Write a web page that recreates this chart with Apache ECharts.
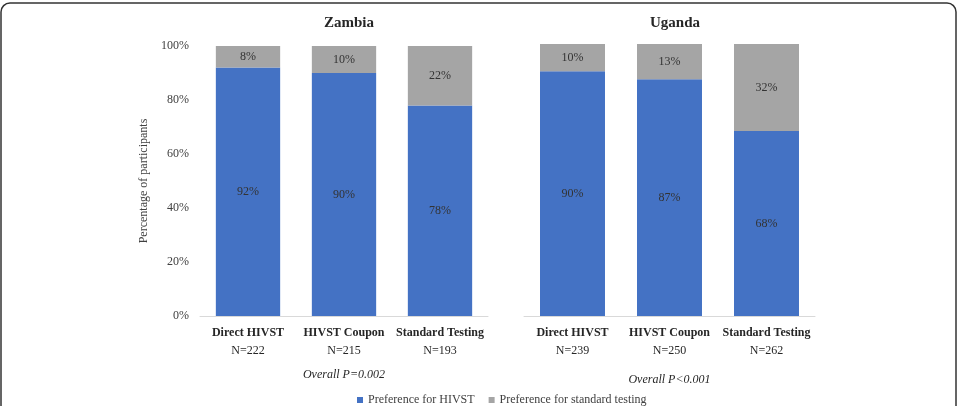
<!DOCTYPE html>
<html>
<head>
<meta charset="utf-8">
<script src="https://cdn.jsdelivr.net/npm/echarts@6/dist/echarts.min.js"></script>
<style>
  html, body { margin: 0; padding: 0; background: #fff; }
  #chart { width: 959px; height: 406px; }
</style>
</head>
<body>
<div id="chart"></div>
<script>
const categories = ['Direct HIVST', 'HIVST Coupon', 'Standard Testing'];
const zambiaN = [222, 215, 193];
const ugandaN = [239, 250, 262];
const zambiaHivst = [92, 90, 78];
const zambiaStandard = [8, 10, 22];
const ugandaHivst = [90, 87, 68];
const ugandaStandard = [10, 13, 32];
const yTicks = [0, 20, 40, 60, 80, 100];

const FONT = '"Liberation Serif", "DejaVu Serif", serif';
const BLUE = '#4472C4';
const GREY = '#A5A5A5';

const chart = echarts.init(document.getElementById('chart'));

function xAxisFor(idx, nList, pText, gap) {
  return {
    type: 'category',
    gridIndex: idx,
    data: categories.map((c, i) => c + '\n' + 'N=' + nList[i]),
    axisTick: { show: false },
    axisLine: { lineStyle: { color: '#d9d9d9', width: 1 } },
    axisLabel: {
      margin: 8,
      interval: 0,
      formatter(v) {
        const parts = v.split('\n');
        return '{a|' + parts[0] + '}\n{b|' + parts[1] + '}';
      },
      rich: {
        a: { fontFamily: FONT, fontSize: 12, fontWeight: 'bold', color: '#262626', lineHeight: 18 },
        b: { fontFamily: FONT, fontSize: 12, color: '#262626', lineHeight: 18 }
      }
    },
    name: pText,
    nameLocation: 'middle',
    nameGap: gap,
    nameTextStyle: { fontFamily: FONT, fontSize: 12, fontStyle: 'italic', color: '#262626' }
  };
}

function yAxisFor(idx, showLabels) {
  return {
    type: 'value',
    gridIndex: idx,
    min: yTicks[0],
    max: yTicks[yTicks.length - 1],
    interval: 20,
    splitLine: { show: false },
    axisLine: { show: false },
    axisTick: { show: false },
    axisLabel: {
      show: showLabels,
      margin: 11,
      formatter: '{value}%',
      fontFamily: FONT,
      fontSize: 12,
      color: '#404040'
    },
    name: showLabels ? 'Percentage of participants' : '',
    nameLocation: 'middle',
    nameGap: 50,
    nameTextStyle: { fontFamily: FONT, fontSize: 12, color: '#404040' }
  };
}

function barSeries(name, data, idx, color) {
  return {
    name: name,
    type: 'bar',
    stack: 'total' + idx,
    xAxisIndex: idx,
    yAxisIndex: idx,
    barCategoryGap: '33%',
    data: data,
    itemStyle: { color: color },
    label: {
      show: true,
      position: 'inside',
      formatter: '{c}%',
      fontFamily: FONT,
      fontSize: 12,
      color: '#333'
    }
  };
}

chart.setOption({
  animation: false,
  textStyle: { fontFamily: FONT },
  title: [
    { text: 'Zambia', left: 344, top: 11, textAlign: 'center',
      textStyle: { fontFamily: FONT, fontSize: 15, fontWeight: 'bold', color: '#262626' } },
    { text: 'Uganda', left: 670, top: 11, textAlign: 'center',
      textStyle: { fontFamily: FONT, fontSize: 15, fontWeight: 'bold', color: '#262626' } }
  ],
  grid: [
    { left: 200, right: 471, top: 46, bottom: 90 },
    { left: 524, right: 144, top: 44, bottom: 90 }
  ],
  xAxis: [
    xAxisFor(0, zambiaN, 'Overall P=0.002', 53),
    xAxisFor(1, ugandaN, 'Overall P<0.001', 58)
  ],
  yAxis: [yAxisFor(0, true), yAxisFor(1, false)],
  legend: {
    data: ['Preference for HIVST', 'Preference for standard testing'],
    left: 352,
    top: 389,
    icon: 'rect',
    itemWidth: 6,
    itemHeight: 6,
    itemGap: 14,
    textStyle: { fontFamily: FONT, fontSize: 12, color: '#404040' }
  },
  graphic: [{
    type: 'rect',
    silent: true,
    shape: { x: 1, y: 3, width: 955, height: 430, r: 9 },
    style: { fill: 'none', stroke: '#333', lineWidth: 1.5 }
  }],
  series: [
    barSeries('Preference for HIVST', zambiaHivst, 0, BLUE),
    barSeries('Preference for standard testing', zambiaStandard, 0, GREY),
    barSeries('Preference for HIVST', ugandaHivst, 1, BLUE),
    barSeries('Preference for standard testing', ugandaStandard, 1, GREY)
  ]
});
</script>
</body>
</html>
